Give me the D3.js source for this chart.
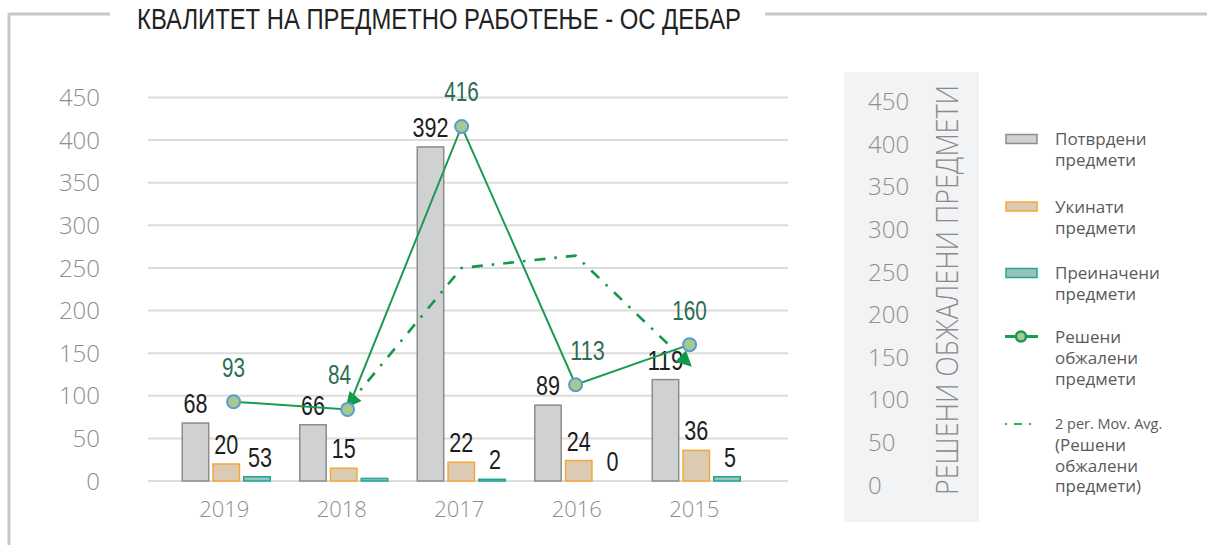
<!DOCTYPE html>
<html><head><meta charset="utf-8">
<script src="https://cdn.jsdelivr.net/npm/d3@7"></script>
<style>
html,body{margin:0;padding:0;background:#fff;}
svg{display:block;}
</style></head>
<body>
<svg id="c" width="1207" height="545"></svg>
<script>
const title = "КВАЛИТЕТ НА ПРЕДМЕТНО РАБОТЕЊЕ - ОС ДЕБАР";
const years = ["2019","2018","2017","2016","2015"];
const potvrdeni = [68, 66, 392, 89, 119];
const ukinati = [20, 15, 22, 24, 36];
const preinaceni = [5, 3, 2, 0, 5];
const preinaceniLabels = ["53", "", "2", "0", "5"];
const resheni = [93, 84, 416, 113, 160];
const yTicks = [0,50,100,150,200,250,300,350,400,450];
const rightTitle = "РЕШЕНИ ОБЖАЛЕНИ ПРЕДМЕТИ";
const legendItems = [
  {key:"potvrdeni", lines:["Потврдени","предмети"]},
  {key:"ukinati", lines:["Укинати","предмети"]},
  {key:"preinaceni", lines:["Преиначени","предмети"]},
  {key:"resheni", lines:["Решени","обжалени","предмети"]},
  {key:"avg", lines:["2 per. Mov. Avg.","(Решени","обжалени","предмети)"]}
];

// moving average (2 periods) of the line series
const movAvg = resheni.map((v,i)=> i===0 ? null : (v+resheni[i-1])/2);

const svg = d3.select("#c");
const narrow = "'Liberation Sans Narrow','Liberation Sans',Arial,sans-serif";
const sans = "'Open Sans','Noto Sans',sans-serif";
const green = "#1a9a52";

const x = d3.scaleBand().domain(years).range([167.5, 755]).padding(0);
const xl = d3.scaleBand().domain(years).range([176.6, 746.6]).padding(0);
const sub = d3.scaleBand().domain(["potvrdeni","ukinati","preinaceni"]).range([-44,44]).paddingInner(0.14);
const y = d3.scaleLinear().domain([0,450]).range([481, 97.5]);
const y2 = d3.scaleLinear().domain([0,450]).range([485, 101.5]);

const styles = {
  potvrdeni:{fill:"#d0d1d3", stroke:"#8c8c8c"},
  ukinati:{fill:"#dbcbb2", stroke:"#f7a733"},
  preinaceni:{fill:"#98c4b7", stroke:"#22a595"}
};

// condensed digits helper
const condensed = (sel, perChar) => sel.each(function(){
  const t = d3.select(this).text();
  if (t.length) d3.select(this).attr("textLength", t.length*perChar).attr("lengthAdjust","spacingAndGlyphs");
});

// frame
svg.append("line").attr("x1",9).attr("x2",110).attr("y1",14).attr("y2",14).attr("stroke","#c8c8cc").attr("stroke-width",3);
svg.append("line").attr("x1",765).attr("x2",1207).attr("y1",14).attr("y2",14).attr("stroke","#c8c8cc").attr("stroke-width",3);
svg.append("line").attr("x1",9).attr("x2",9).attr("y1",13).attr("y2",545).attr("stroke","#c8c8cc").attr("stroke-width",3);

svg.append("text").text(title).attr("x",137).attr("y",29)
  .attr("font-family",narrow).attr("font-size",30).attr("fill","#222")
  .attr("textLength",604).attr("lengthAdjust","spacingAndGlyphs");

// right panel
svg.append("rect").attr("x",844).attr("y",72).attr("width",135).attr("height",450).attr("fill","#f2f3f5");

// gridlines
svg.append("g").selectAll("line").data(yTicks).join("line")
  .attr("x1",148).attr("x2",788).attr("y1",d=>y(d)).attr("y2",d=>y(d))
  .attr("stroke","#dcdcdc").attr("stroke-width",2);

// left axis labels
svg.append("g").selectAll("text").data(yTicks).join("text")
  .attr("x",100).attr("y",d=>y(d)).attr("dy","0.36em").attr("text-anchor","end")
  .attr("font-family",sans).attr("font-size",24).attr("font-weight",300).attr("fill","#8e8e8e")
  .text(d=>d);

// right axis labels
svg.append("g").selectAll("text").data(yTicks).join("text")
  .attr("x",868).attr("y",d=>y2(d)).attr("dy","0.36em").attr("text-anchor","start")
  .attr("font-family",sans).attr("font-size",24).attr("font-weight",300).attr("fill","#8e8e8e")
  .text(d=>d);

svg.append("text").text(rightTitle)
  .attr("transform","translate(958,290) rotate(-90)")
  .attr("text-anchor","middle")
  .attr("font-family",sans).attr("font-size",31).attr("font-weight",300).attr("fill","#8a8a8a")
  .attr("textLength",410).attr("lengthAdjust","spacingAndGlyphs");

// x axis labels
svg.append("g").selectAll("text").data(years).join("text")
  .attr("x",d=>x(d)+x.bandwidth()/2-2).attr("y",509).attr("dy","0.36em").attr("text-anchor","middle")
  .attr("font-family",sans).attr("font-size",22).attr("font-weight",300).attr("fill","#8e8e8e")
  .text(d=>d);

// bars
const seriesData = {potvrdeni, ukinati, preinaceni};
const labelData = {potvrdeni: potvrdeni.map(String), ukinati: ukinati.map(String), preinaceni: preinaceniLabels};
const barG = svg.append("g");
Object.keys(seriesData).forEach(k=>{
  const vals = seriesData[k];
  barG.append("g").selectAll("rect").data(vals).join("rect")
    .attr("x",(d,i)=>x(years[i])+x.bandwidth()/2+sub(k))
    .attr("width",sub.bandwidth())
    .attr("y",d=>y(d))
    .attr("height",d=>Math.max(0,y(0)-y(d)))
    .attr("fill",styles[k].fill).attr("stroke",styles[k].stroke).attr("stroke-width",1.5);
});
Object.keys(seriesData).forEach(k=>{
  const vals = seriesData[k];
  barG.append("g").selectAll("text").data(vals).join("text")
    .attr("x",(d,i)=>x(years[i])+x.bandwidth()/2+sub(k)+sub.bandwidth()/2+(k==="preinaceni"?3:0))
    .attr("y",d=>y(d)-10)
    .attr("text-anchor","middle")
    .attr("font-family",narrow).attr("font-size",27).attr("fill","#1e1e1e")
    .text((d,i)=>labelData[k][i])
    .call(condensed, 12);
});

// moving average trendline
const defs = svg.append("defs");
defs.append("marker").attr("id","arr").attr("viewBox","0 0 10 10").attr("refX",8).attr("refY",5)
  .attr("markerWidth",7).attr("markerHeight",6).attr("orient","auto-start-reverse").attr("markerUnits","strokeWidth")
  .append("path").attr("d","M0,0 L10,5 L0,10 z").attr("fill","#109a48");

const cx = i => xl(years[i])+xl.bandwidth()/2;
const avgPts = movAvg.map((v,i)=>v===null?null:[cx(i), y(v)]).filter(p=>p);
svg.append("path").attr("d",d3.line()(avgPts))
  .attr("fill","none").attr("stroke","#109a48").attr("stroke-width",2.6)
  .attr("stroke-dasharray","11,9,2.5,9")
  .attr("marker-start","url(#arr)").attr("marker-end","url(#arr)");

// line series
const linePts = resheni.map((v,i)=>[cx(i), y(v)]);
svg.append("path").attr("d",d3.line()(linePts))
  .attr("fill","none").attr("stroke",green).attr("stroke-width",2);
svg.append("g").selectAll("circle").data(resheni).join("circle")
  .attr("cx",(d,i)=>cx(i)).attr("cy",d=>y(d)).attr("r",6.5)
  .attr("fill","#a6ca8c").attr("stroke","#5b9bd5").attr("stroke-width",2);
const lblDx = [0,-8,0,12,0];
svg.append("g").selectAll("text").data(resheni).join("text")
  .attr("x",(d,i)=>cx(i)+lblDx[i]).attr("y",d=>y(d)-25)
  .attr("text-anchor","middle")
  .attr("font-family",narrow).attr("font-size",27).attr("fill","#2c6e52")
  .text(d=>d)
  .call(condensed, 11.5);

// legend
const legTop = [139, 206.5, 273, 336.5, 424];
const lg = svg.append("g");
legendItems.forEach((it,i)=>{
  const cy = legTop[i];
  if (styles[it.key]) {
    lg.append("rect").attr("x",1006).attr("y",cy-4.5).attr("width",31).attr("height",9)
      .attr("fill",styles[it.key].fill).attr("stroke",styles[it.key].stroke).attr("stroke-width",1.5);
  } else if (it.key==="resheni") {
    lg.append("line").attr("x1",1005).attr("x2",1038).attr("y1",cy).attr("y2",cy).attr("stroke",green).attr("stroke-width",3);
    lg.append("circle").attr("cx",1021).attr("cy",cy).attr("r",5).attr("fill","#a6ca8c").attr("stroke",green).attr("stroke-width",2.5);
  } else {
    lg.append("line").attr("x1",1005).attr("x2",1032).attr("y1",cy).attr("y2",cy).attr("stroke","#2fae5e").attr("stroke-width",2)
      .attr("stroke-dasharray","2,7,8,7");
  }
  it.lines.forEach((t,j)=>{
    const small = it.key==="avg" && j===0;
    lg.append("text").attr("x",1055).attr("y",cy + j*(it.key==="avg"?20.7:21.3)).attr("dy","0.36em")
      .attr("font-family",sans).attr("font-size",small?14.5:17).attr("fill","#5a5a5a")
      .text(t);
  });
});
</script>
</body></html>
